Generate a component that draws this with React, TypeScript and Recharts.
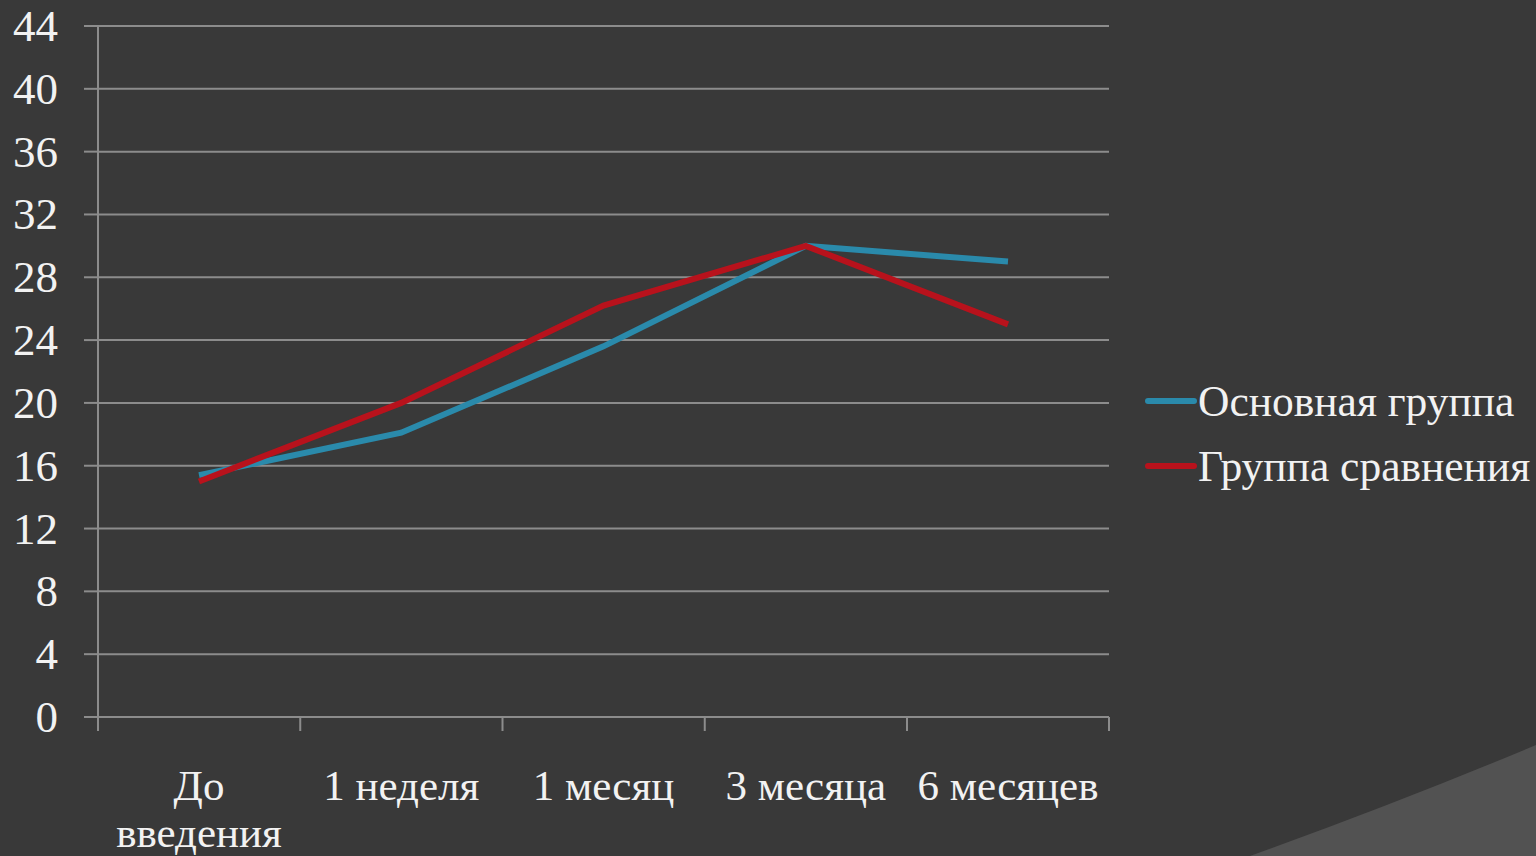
import { CartesianGrid, Legend, Line, LineChart, XAxis, YAxis } from 'recharts';

const categories = ['До введения', '1 неделя', '1 месяц', '3 месяца', '6 месяцев'];
const mainGroup = [15.4, 18.1, 23.6, 30, 29];
const comparisonGroup = [15, 20, 26.2, 30, 25];
const seriesNames = ['Основная группа', 'Группа сравнения'];
const yTicks = [0, 4, 8, 12, 16, 20, 24, 28, 32, 36, 40, 44];

const data = categories.map((c, i) => ({
  name: c,
  main: mainGroup[i],
  compare: comparisonGroup[i],
}));

const FONT = "'Liberation Serif', 'DejaVu Serif', serif";
const GRID = '#8c8c8c';
const TEXT = '#f2f2f2';
const HALF_BAND = 101; // half a category slot: points sit in the middle of each slot
const TICK = 14;

function CategoryTick(props: any) {
  const { x, y, payload, index } = props;
  const label: string = payload.value;
  const lines = label.length > 10 ? label.split(' ') : [label];
  const axisY = y - 8;
  return (
    <g>
      <line x1={x - HALF_BAND} x2={x - HALF_BAND} y1={axisY} y2={axisY + TICK} stroke={GRID} strokeWidth={2} />
      {index === categories.length - 1 && (
        <line x1={x + HALF_BAND} x2={x + HALF_BAND} y1={axisY} y2={axisY + TICK} stroke={GRID} strokeWidth={2} />
      )}
      <text x={x} y={y} textAnchor="middle" fill={TEXT} style={{ fontFamily: FONT, fontSize: 43 }}>
        {lines.map((l, i) => (
          <tspan key={i} x={x} dy={i === 0 ? 75 : 47}>
            {l}
          </tspan>
        ))}
      </text>
    </g>
  );
}

function ValueTick(props: any) {
  const { x, y, payload } = props;
  return (
    <text
      x={x}
      y={y}
      dy={15}
      textAnchor="end"
      fill={TEXT}
      style={{ fontFamily: FONT, fontSize: 45 }}
    >
      {payload.value}
    </text>
  );
}

function LegendBox(props: any) {
  const items = [...props.payload].sort(
    (a: any, b: any) => seriesNames.indexOf(a.value) - seriesNames.indexOf(b.value),
  );
  return (
    <div style={{ fontFamily: FONT, fontSize: 43.5, color: TEXT }}>
      {items.map((p: any) => (
        <div key={p.value} style={{ display: 'flex', alignItems: 'center', height: 65 }}>
          <div style={{ width: 52, height: 6, background: p.color, borderRadius: 3 }} />
          <span style={{ marginLeft: 1, whiteSpace: 'nowrap' }}>{p.value}</span>
        </div>
      ))}
    </div>
  );
}

export default function App() {
  return (
    <div
      style={{
        position: 'absolute',
        left: 0,
        top: 0,
        width: 1536,
        height: 856,
        background: '#393939',
        overflow: 'hidden',
        fontFamily: FONT,
      }}
    >
      <svg width={1536} height={856} style={{ position: 'absolute', left: 0, top: 0 }}>
        <path d="M 1250 856 Q 1400 802 1536 745 L 1536 856 Z" fill="#525252" />
      </svg>
      <div style={{ position: 'absolute', left: 0, top: 0 }}>
        <LineChart
          width={1536}
          height={856}
          data={data}
          margin={{ top: 26, right: 36, left: 0, bottom: 0 }}
        >
          <CartesianGrid horizontal vertical={false} stroke={GRID} strokeWidth={2} />
          <XAxis
            dataKey="name"
            interval={0}
            padding={{ left: HALF_BAND, right: HALF_BAND }}
            axisLine={{ stroke: GRID, strokeWidth: 2 }}
            tickLine={false}
            tick={<CategoryTick />}
            height={139}
          />
          <YAxis
            domain={[0, 44]}
            ticks={yTicks}
            interval={0}
            width={98}
            axisLine={{ stroke: GRID, strokeWidth: 2 }}
            tickLine={{ stroke: GRID, strokeWidth: 2 }}
            tickSize={TICK}
            tickMargin={26}
            tick={<ValueTick />}
          />
          <Legend
            layout="vertical"
            align="right"
            verticalAlign="middle"
            content={<LegendBox />}
            wrapperStyle={{ left: 1145, top: 368, width: 391 }}
          />
          <Line
            type="linear"
            dataKey="main"
            name={seriesNames[0]}
            stroke="#2a8aab"
            strokeWidth={6}
            dot={false}
            isAnimationActive={false}
          />
          <Line
            type="linear"
            dataKey="compare"
            name={seriesNames[1]}
            stroke="#b8121c"
            strokeWidth={6}
            dot={false}
            isAnimationActive={false}
          />
        </LineChart>
      </div>
    </div>
  );
}
